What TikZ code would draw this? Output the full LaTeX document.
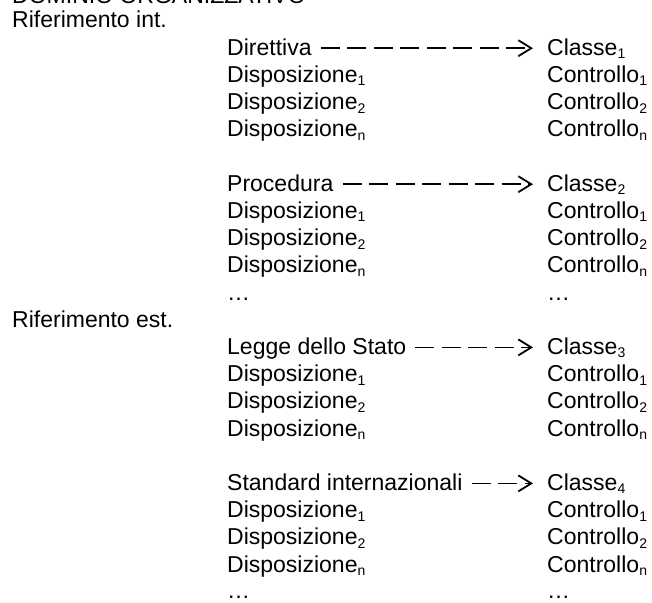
\documentclass[tikz,border=0pt]{standalone}
\usepackage{fontspec}
\setmainfont{Liberation Sans}
\usepackage{tikz}
\usetikzlibrary{arrows.meta,positioning,calc}

\newcommand{\pedice}[1]{{\fontsize{14}{14}\selectfont\raisebox{-3.5pt}{#1}}}

\begin{document}
\begin{tikzpicture}[x=1pt,y=1pt,
        voce/.style={anchor=base west, inner sep=0pt, font=\fontsize{23}{27}\selectfont},
        freccia/.style={-{Straight Barb[length=13pt,width=16pt]}, line width=1.8pt,
            dash pattern=on 19pt off 7.5pt, shorten <=9pt, shorten >=14pt}]
    \useasboundingbox (0,0) rectangle (652,-602);
    % intestazione e riferimenti
    \node[voce] (titolo) at (12,-4) {DOMINIO ORGANIZZATIVO};
    \node[voce] (rifint) at (12,-28) {Riferimento int.};
    \node[voce] (rifest) at (12,{-28-27.2*11}) {Riferimento est.};
    % fonti e classi
    \foreach \g/\k/\testo in {1/2/Direttiva, 2/7/Procedura, 3/13/Legge dello Stato, 4/18/Standard internazionali} {
        \node[voce] (fonte\g) at (227,{-28-27.2*(\k-1)}) {\testo};
        \node[voce] (classe\g) at (547,{-28-27.2*(\k-1)}) {Classe\pedice{\g}};
        \draw[freccia] ([yshift=7pt]fonte\g.base east) -- ([yshift=7pt]classe\g.base west);
        \foreach \i/\s in {1/1, 2/2, 3/n} {
            \node[voce] (disp\g\s) at (227,{-28-27.2*(\k+\i-1)}) {Disposizione\pedice{\s}};
            \node[voce] (contr\g\s) at (547,{-28-27.2*(\k+\i-1)}) {Controllo\pedice{\s}};
        }
    }
    % puntini
    \node[voce] (puntiA) at (227,{-28-27.2*10}) {…};
    \node[voce] (puntiB) at (547,{-28-27.2*10}) {…};
    \node[voce] (puntiC) at (227,{-27-27.2*21}) {…};
    \node[voce] (puntiD) at (547,{-27-27.2*21}) {…};
\end{tikzpicture}
\end{document}
